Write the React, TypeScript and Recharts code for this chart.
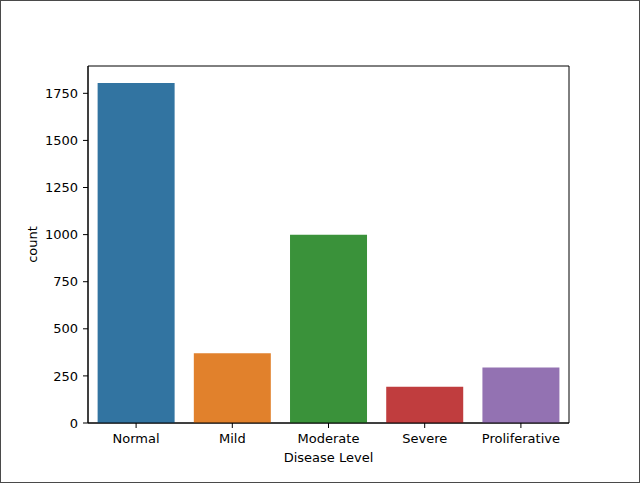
import React from 'react'
import { BarChart, Bar, XAxis, YAxis, Cell, Label, CartesianGrid } from 'recharts'

// counts per disease level (seaborn countplot)
const levels = ['Normal', 'Mild', 'Moderate', 'Severe', 'Proliferative']
const counts = [1805, 370, 999, 193, 295]
const barColors = ['#3274a1', '#e1812c', '#3a923a', '#c03d3e', '#9372b2']
const yTicks = [0, 250, 500, 750, 1000, 1250, 1500, 1750]

const data = levels.map((level, i) => ({ level, count: counts[i] }))

const FONT = '"DejaVu Sans", sans-serif'
const tickStyle = { fontSize: 13, fill: '#000', fontFamily: FONT }

const App = () => {
  return (
    <div
      style={{
        position: 'absolute',
        left: 0,
        top: 0,
        width: 638,
        height: 481,
        border: '1px solid #4a4a4a',
        background: '#fff',
      }}
    >
      <BarChart
        width={638}
        height={481}
        data={data}
        margin={{ top: 65, right: 70, left: 19, bottom: 19 }}
        barCategoryGap="10%"
      >
        {/* axes frame (top and right spines) */}
        <CartesianGrid
          stroke="#000"
          strokeWidth={1}
          horizontalCoordinatesGenerator={({ offset }: any) => [offset.top, offset.top + offset.height]}
          verticalCoordinatesGenerator={({ offset }: any) => [offset.left, offset.left + offset.width]}
        />
        <XAxis
          dataKey="level"
          stroke="#000"
          tick={tickStyle}
          tickSize={5}
          tickMargin={6}
          height={40}
          interval={0}
        >
          <Label
            value="Disease Level"
            position="insideBottom"
            offset={1}
            style={{ fontSize: 13, fill: '#000', fontFamily: FONT }}
          />
        </XAxis>
        <YAxis
          domain={[0, 1895]}
          ticks={yTicks}
          stroke="#000"
          tick={tickStyle}
          tickSize={5}
          tickMargin={5}
          width={68}
          allowDataOverflow
        >
          <Label
            content={({ viewBox }: any) => {
              const cx = viewBox.x + 12
              const cy = viewBox.y + viewBox.height / 2
              return (
                <text
                  x={cx}
                  y={cy}
                  transform={`rotate(-90 ${cx} ${cy})`}
                  textAnchor="middle"
                  dominantBaseline="central"
                  style={{ fontSize: 13, fill: '#000', fontFamily: FONT }}
                >
                  count
                </text>
              )
            }}
          />
        </YAxis>
        <Bar dataKey="count" isAnimationActive={false}>
          {data.map((d, i) => (
            <Cell key={d.level} fill={barColors[i]} />
          ))}
        </Bar>
      </BarChart>
    </div>
  )
}

export default App
